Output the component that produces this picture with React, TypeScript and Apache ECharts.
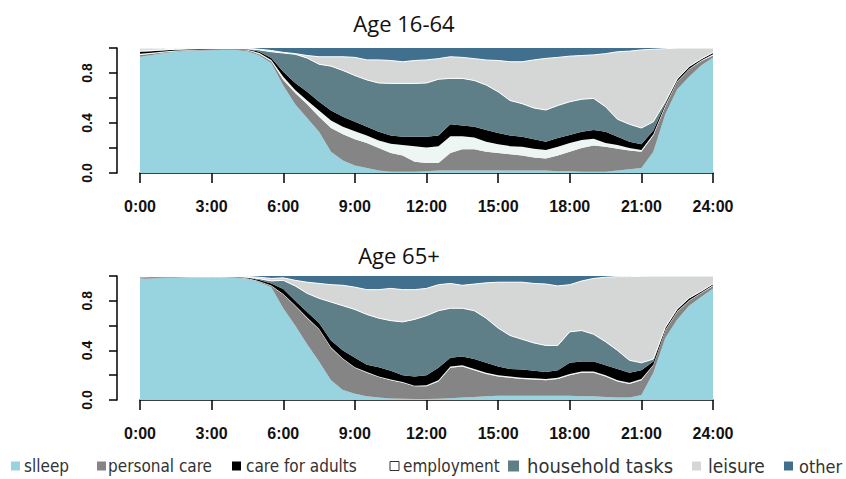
import React, { useEffect, useRef } from 'react';
import * as echarts from 'echarts';

// ---------- data ----------
const hours = [
  0, 0.5, 1, 1.5, 2, 2.5, 3, 3.5, 4, 4.5, 5, 5.5, 6, 6.5, 7, 7.5, 8, 8.5, 9, 9.5,
  10, 10.5, 11, 11.5, 12, 12.5, 13, 13.5, 14, 14.5, 15, 15.5, 16, 16.5, 17, 17.5,
  18, 18.5, 19, 19.5, 20, 20.5, 21, 21.5, 22, 22.5, 23, 23.5, 24,
];

const xTickLabels = ['0:00', '3:00', '6:00', '9:00', '12:00', '15:00', '18:00', '21:00', '24:00'];
const yTickLabels = ['0.0', '', '0.4', '', '0.8', ''];
const panelTitles = ['Age 16-64', 'Age 65+'];
const legendNames = ['slleep', 'personal care', 'care for adults', 'employment', 'household tasks', 'leisure', 'other'];

// Age 16-64 (share of people in each activity)
const sleep1664 = [.93, .945, .96, .97, .978, .98, .983, .985, .985, .975, .94, .88, .70, .55, .44, .33, .17, .10, .06, .04, .02, .01, .01, .01, .015, .02, .02, .02, .02, .02, .02, .02, .02, .02, .02, .015, .015, .01, .01, .01, .02, .03, .04, .17, .47, .67, .77, .86, .925];
const personal1664 = [.015, .01, .007, .005, .004, .004, .003, .003, .003, .007, .01, .015, .045, .09, .11, .12, .19, .21, .21, .20, .18, .15, .13, .08, .065, .06, .14, .17, .17, .15, .14, .13, .12, .105, .097, .125, .155, .19, .21, .20, .175, .15, .13, .13, .06, .06, .06, .035, .015];
const employment1664 = [.01, .007, .005, .005, .003, .003, .003, .002, .002, .004, .01, .01, .025, .025, .03, .05, .06, .06, .065, .06, .06, .075, .085, .125, .125, .135, .135, .105, .095, .08, .07, .065, .07, .07, .067, .07, .07, .065, .055, .03, .03, .02, .015, .01, .01, .005, .005, .005, .01];
const care1664 = [.015, .013, .01, .007, .005, .005, .004, .004, .004, .004, .01, .015, .04, .055, .07, .07, .08, .08, .075, .07, .07, .065, .065, .075, .085, .085, .095, .085, .085, .094, .09, .085, .08, .075, .066, .07, .065, .065, .07, .09, .065, .05, .045, .03, .015, .015, .015, .01, .01];
const household1664 = [.005, .005, .003, .003, .003, .003, .002, .002, .002, .004, .015, .05, .15, .23, .27, .30, .355, .37, .37, .375, .39, .417, .427, .427, .43, .45, .367, .377, .37, .36, .33, .28, .265, .25, .254, .26, .265, .26, .252, .20, .14, .14, .13, .07, .015, .002, .002, .002, .005];
const leisure1664 = [.02, .015, .01, .007, .004, .003, .003, .002, .002, .003, .005, .01, .005, .005, .02, .06, .075, .11, .145, .16, .185, .183, .173, .183, .185, .165, .173, .168, .175, .20, .25, .31, .335, .385, .413, .385, .365, .35, .348, .425, .54, .585, .625, .58, .425, .246, .148, .088, .035];
const other1664 = [.005, .005, .005, .003, .003, .002, .002, .002, .002, .003, .01, .02, .035, .045, .06, .07, .07, .07, .075, .095, .095, .10, .11, .10, .095, .085, .07, .075, .085, .096, .10, .11, .11, .095, .083, .075, .065, .06, .055, .045, .03, .025, .015, .01, .005, .002, 0, 0, 0];

// Age 65+
const sleep65 = [.975, .98, .983, .985, .987, .988, .988, .987, .985, .975, .95, .91, .74, .60, .45, .31, .16, .08, .05, .03, .02, .012, .01, .008, .008, .01, .015, .02, .025, .03, .035, .035, .035, .035, .035, .035, .035, .03, .03, .025, .02, .02, .04, .22, .50, .65, .76, .83, .90];
const personal65 = [.007, .005, .004, .003, .003, .002, .002, .003, .003, .005, .005, .01, .11, .16, .21, .26, .26, .25, .21, .19, .165, .148, .13, .102, .102, .14, .245, .25, .215, .18, .155, .145, .135, .13, .125, .135, .165, .19, .19, .165, .13, .11, .12, .06, .06, .06, .04, .03, .02];
const employment65 = [.003, .002, .002, .002, .001, .001, .001, .001, .002, .002, .003, .003, .005, .005, .005, .005, .005, .005, .005, .005, .005, .005, .005, .005, .008, .01, .01, .01, .01, .01, .01, .01, .01, .01, .01, .01, .01, .01, .01, .01, .01, .01, .01, .005, .005, .005, .005, .005, .005];
const care65 = [.005, .005, .004, .004, .004, .004, .004, .004, .003, .005, .01, .017, .04, .035, .045, .045, .055, .065, .075, .06, .075, .07, .055, .075, .082, .10, .07, .07, .08, .08, .07, .06, .065, .06, .055, .06, .09, .08, .08, .08, .09, .08, .07, .025, .015, .015, .015, .01, .01];
const household65 = [.002, .002, .002, .001, .001, .001, .001, .001, .002, .003, .01, .02, .07, .12, .15, .20, .31, .36, .39, .405, .395, .405, .43, .46, .48, .46, .40, .39, .39, .36, .31, .27, .245, .225, .215, .20, .25, .25, .22, .19, .15, .10, .06, .02, .005, .005, .002, .002, .001];
const leisure65 = [.005, .004, .003, .003, .002, .002, .002, .002, .003, .006, .012, .02, .02, .045, .09, .12, .14, .165, .18, .20, .23, .26, .26, .24, .22, .21, .20, .185, .215, .285, .37, .43, .46, .48, .495, .48, .38, .40, .45, .52, .595, .675, .697, .668, .413, .263, .178, .123, .064];
const other65 = [.003, .002, .002, .002, .002, .002, .002, .002, .002, .004, .01, .02, .015, .035, .05, .06, .07, .075, .09, .11, .11, .10, .11, .11, .10, .07, .06, .075, .065, .055, .05, .05, .05, .06, .065, .08, .07, .04, .02, .01, .005, .005, .003, .002, .002, .002, 0, 0, 0];

// ---------- styling / layout ----------
const COLORS: Record<string, string> = {
  'slleep': '#98D3E0',
  'personal care': '#858585',
  'care for adults': '#000000',
  'employment': '#EEF6F3',
  'household tasks': '#5F7F88',
  'leisure': '#D5D6D6',
  'other': '#41708F',
};

// drawing (stacking) order, bottom to top
const stackOrder = ['slleep', 'personal care', 'employment', 'care for adults', 'household tasks', 'leisure', 'other'];

const panelData: Record<string, number[]>[] = [
  {
    'slleep': sleep1664, 'personal care': personal1664, 'employment': employment1664,
    'care for adults': care1664, 'household tasks': household1664, 'leisure': leisure1664, 'other': other1664,
  },
  {
    'slleep': sleep65, 'personal care': personal65, 'employment': employment65,
    'care for adults': care65, 'household tasks': household65, 'leisure': leisure65, 'other': other65,
  },
];

const grids = [
  { left: 140, width: 573, top: 48, height: 125 },
  { left: 140, width: 573, top: 276, height: 124 },
];
const titlePos = [
  { x: 404, y: 23 },
  { x: 399, y: 255 },
];
const legendLayout = [
  { boxX: 11, textX: 24, size: 17, box: 9 },
  { boxX: 97, textX: 108, size: 17, box: 9 },
  { boxX: 232, textX: 246, size: 17, box: 9 },
  { boxX: 390, textX: 403, size: 17, box: 9 },
  { boxX: 508, textX: 527, size: 20, box: 11 },
  { boxX: 692, textX: 708, size: 19, box: 9 },
  { boxX: 784, textX: 799, size: 18, box: 9 },
];
const LEGEND_Y = 466;
const AXIS_FONT = '"Liberation Sans", Arial, sans-serif';
const TITLE_FONT = '"Open Sans", "Noto Sans", sans-serif';
const LEGEND_FONT = '"Liberation Sans Narrow", "DejaVu Sans Condensed", "Liberation Sans", sans-serif';

const hourLabel = (h: number) => `${Math.floor(h)}:${h % 1 ? '30' : '00'}`;
const isMajor = (i: number) => hours[i] % 3 === 0;

function buildOption(): echarts.EChartsOption {
  const xAxis: any[] = [];
  const yAxis: any[] = [];
  const series: any[] = [];
  const categories = hours.map(hourLabel);

  grids.forEach((_, gi) => {
    xAxis.push({
      type: 'category',
      gridIndex: gi,
      data: categories,
      boundaryGap: false,
      offset: 3,
      axisLine: { show: true, lineStyle: { color: '#000', width: 1.5 } },
      axisTick: { show: true, length: 10, interval: (i: number) => isMajor(i), lineStyle: { color: '#000', width: 1.5 } },
      axisLabel: {
        interval: (i: number) => isMajor(i),
        margin: 22,
        color: '#111',
        fontSize: 16,
        fontWeight: 'bold',
        fontFamily: AXIS_FONT,
        formatter: (_v: string, i: number) => xTickLabels[Math.round(hours[i] / 3)] ?? '',
      },
      splitLine: { show: false },
    });
    yAxis.push({
      type: 'value',
      gridIndex: gi,
      min: 0,
      max: 1,
      interval: 0.2,
      offset: 23,
      axisLine: { show: true, lineStyle: { color: '#000', width: 1.5 } },
      axisTick: { show: true, length: 8, lineStyle: { color: '#000', width: 1.5 } },
      axisLabel: {
        rotate: 90,
        margin: 23,
        color: '#111',
        fontSize: 14,
        fontWeight: 'bold',
        fontFamily: AXIS_FONT,
        formatter: (v: number) => yTickLabels[Math.round(v * 5)] ?? '',
      },
      splitLine: { show: false },
    });

    stackOrder.forEach((name) => {
      const values = panelData[gi][name];
      const whiteEdge = name === 'household tasks' || name === 'leisure';
      series.push({
        name,
        type: 'line',
        xAxisIndex: gi,
        yAxisIndex: gi,
        stack: 'panel' + gi,
        symbol: 'none',
        showSymbol: false,
        data: values,
        lineStyle: whiteEdge ? { color: '#ffffff', width: 1 } : { width: 0, opacity: 0 },
        areaStyle: { color: COLORS[name], opacity: 1 },
        emphasis: { disabled: true },
        z: 2,
      });
    });
  });

  const graphic: any[] = [];
  panelTitles.forEach((t, i) => {
    graphic.push({
      type: 'text',
      x: titlePos[i].x,
      y: titlePos[i].y,
      style: {
        text: t,
        fontSize: 22,
        fontFamily: TITLE_FONT,
        fill: '#111',
        align: 'center',
        verticalAlign: 'middle',
      },
    });
  });
  legendNames.forEach((name, i) => {
    const L = legendLayout[i];
    graphic.push({
      type: 'rect',
      shape: { x: L.boxX, y: LEGEND_Y - L.box / 2, width: L.box, height: L.box },
      style: name === 'employment'
        ? { fill: '#ffffff', stroke: '#333', lineWidth: 1 }
        : { fill: COLORS[name] },
    });
    graphic.push({
      type: 'text',
      x: L.textX,
      y: LEGEND_Y,
      style: {
        text: name,
        fontSize: L.size,
        fontFamily: LEGEND_FONT,
        fill: '#333',
        align: 'left',
        verticalAlign: 'middle',
      },
    });
  });

  return {
    animation: false,
    backgroundColor: '#ffffff',
    grid: grids.map((g) => ({ ...g, containLabel: false })),
    xAxis,
    yAxis,
    series,
    graphic,
  };
}

export default function App() {
  const ref = useRef<HTMLDivElement>(null);
  useEffect(() => {
    if (!ref.current) return;
    const chart = echarts.init(ref.current, undefined, { renderer: 'svg' });
    chart.setOption(buildOption());
    return () => chart.dispose();
  }, []);
  return (
    <div
      ref={ref}
      style={{ position: 'fixed', left: 0, top: 0, width: 846, height: 479, background: '#fff' }}
    />
  );
}
